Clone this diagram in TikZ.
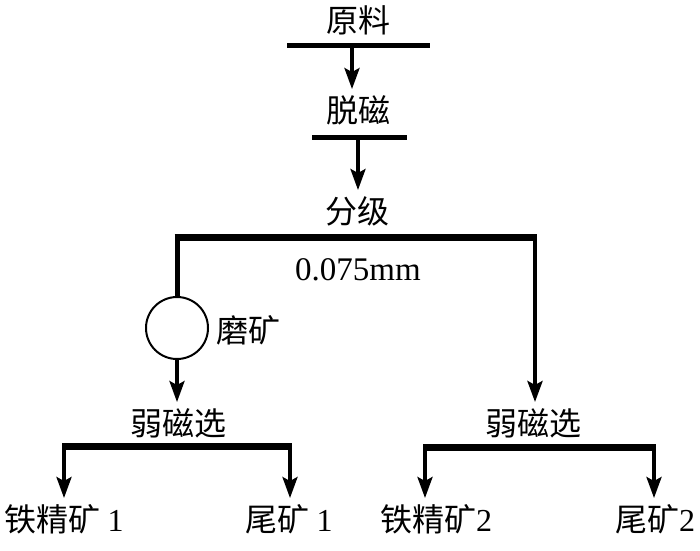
\documentclass[tikz,border=0pt]{standalone}
\usepackage{fontspec}
\setmainfont{Liberation Serif}
\newfontfamily\cjk{Noto Sans CJK SC}
\usetikzlibrary{arrows.meta}
\begin{document}
\begin{tikzpicture}[x=1pt,y=-1pt,
  lbl/.style={font=\cjk\fontsize{32}{34}\selectfont, inner sep=0pt},
  num/.style={font=\fontsize{33}{35}\selectfont, inner sep=0pt},
  flow/.style={line width=3.5pt,shorten >=6pt,-{Stealth[length=21pt,width=15pt,inset=4pt]}},
  mill/.style={circle, draw, line width=2pt, minimum size=62pt, inner sep=0pt}]
\useasboundingbox (0,0) rectangle (700,550);
% texts
\node[lbl] (yl) at (358,20) {原料};
\node[lbl] (tc) at (358,110) {脱磁};
\node[lbl] (fj) at (357,211) {分级};
\node[num] (mm) at (358,270) {0.075mm};
\node[mill] (mo) at (177,328) {};
\node[lbl] (mk) at (248,330) {磨矿};
\node[lbl] (r1) at (178,423) {弱磁选};
\node[lbl] (r2) at (533,423) {弱磁选};
\node[lbl] (t1) at (64,519) {铁精矿~{\rmfamily 1}};
\node[lbl] (w1) at (289,519) {尾矿~{\rmfamily 1}};
\node[lbl] (t2) at (436,519) {铁精矿{\rmfamily 2}};
\node[lbl] (w2) at (655,519) {尾矿{\rmfamily 2}};
% bars
\coordinate (b1L) at (287,45); \coordinate (b1R) at (430,45);
\coordinate (b2L) at (312,137); \coordinate (b2R) at (407,137);
\coordinate (j) at (352,45);
\coordinate (k) at (358,137);
\coordinate (cL) at (177,237); \coordinate (cR) at (535,237);
\coordinate (s1L) at (64,446); \coordinate (s1R) at (290,446);
\coordinate (s2L) at (425,447); \coordinate (s2R) at (654,447);
\draw[line width=5pt] (b1L) -- (b1R);
\draw[line width=5pt] (b2L) -- (b2R);
\draw[flow] (j) -- (j |- tc.north);
\draw[flow] (k) -- (k |- fj.north);
\draw[line width=7pt] ([xshift=-2.5pt]cL) -- ([xshift=2pt]cR);
\draw[line width=5pt] (mo.north) -- (cL);
\draw[flow, line width=4pt] (cR) -- (cR |- r2.north);
\draw[flow] (mo.south) -- (mo.south |- r1.north);
\draw[line width=7pt] ([xshift=-2pt]s1L) -- ([xshift=2pt]s1R);
\draw[line width=7pt] ([xshift=-2pt]s2L) -- ([xshift=2pt]s2R);
\draw[flow] (s1L) -- (s1L |- t1.north);
\draw[flow] (s1R) -- (s1R |- w1.north);
\draw[flow] (s2L) -- (s2L |- t2.north);
\draw[flow] (s2R) -- (s2R |- w2.north);
\end{tikzpicture}
\end{document}
